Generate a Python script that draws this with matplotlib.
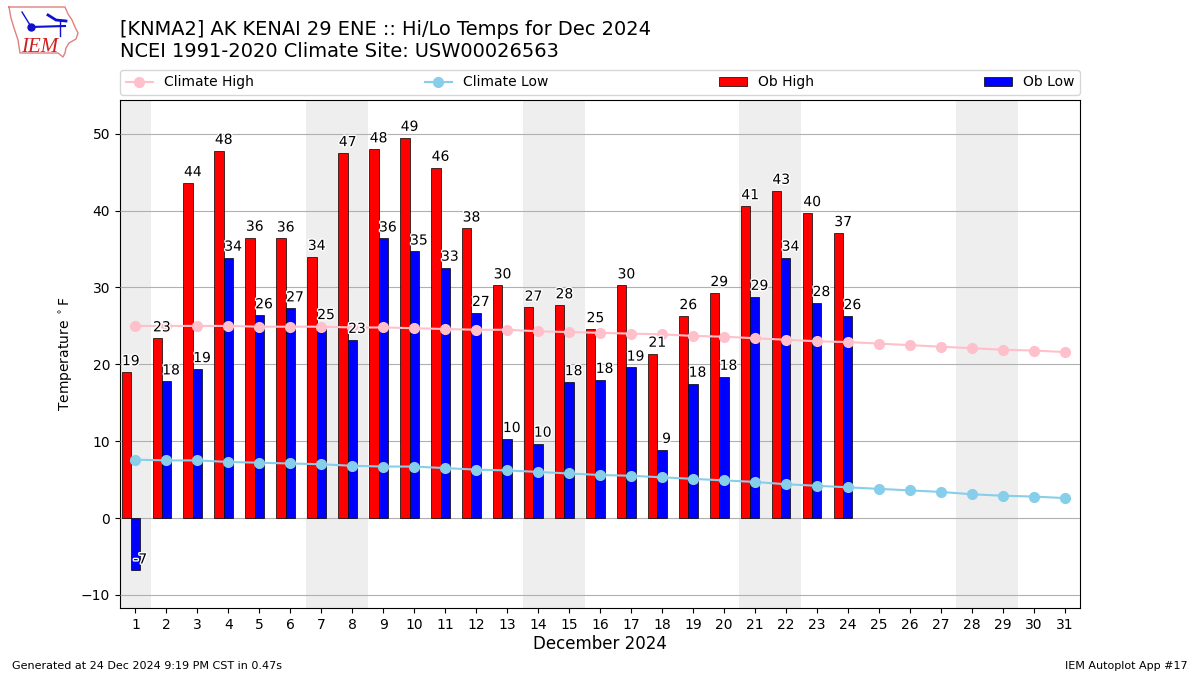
import matplotlib
matplotlib.use("Agg")
import matplotlib.pyplot as plt
import matplotlib.patheffects as pe
import numpy as np

days = list(range(1, 32))
ob_high = [19.0, 23.4, 43.6, 47.8, 36.5, 36.4, 34.0, 47.5, 48.0, 49.5, 45.6, 37.7, 30.3, 27.4, 27.7, 24.6, 30.3, 21.4, 26.3, 29.3, 40.6, 42.6, 39.7, 37.1]
ob_low = [-6.7, 17.8, 19.4, 33.9, 26.4, 27.3, 25.0, 23.2, 36.4, 34.7, 32.6, 26.7, 10.3, 9.7, 17.7, 18.0, 19.6, 8.9, 17.5, 18.4, 28.8, 33.9, 28.0, 26.3]
high_labels = [19, 23, 44, 48, 36, 36, 34, 47, 48, 49, 46, 38, 30, 27, 28, 25, 30, 21, 26, 29, 41, 43, 40, 37]
low_labels = [-7, 18, 19, 34, 26, 27, 25, 23, 36, 35, 33, 27, 10, 10, 18, 18, 19, 9, 18, 18, 29, 34, 28, 26]
climate_high = [25.0, 25.0, 25.0, 25.0, 24.9, 24.9, 24.9, 24.8, 24.8, 24.7, 24.6, 24.5, 24.5, 24.3, 24.2, 24.1, 24.0, 23.9, 23.7, 23.6, 23.4, 23.2, 23.0, 22.9, 22.7, 22.5, 22.3, 22.1, 21.9, 21.8, 21.6]
climate_low = [7.6, 7.5, 7.5, 7.3, 7.2, 7.1, 7.0, 6.8, 6.7, 6.7, 6.5, 6.3, 6.2, 6.0, 5.8, 5.6, 5.5, 5.3, 5.1, 4.9, 4.7, 4.4, 4.2, 4.0, 3.8, 3.6, 3.4, 3.1, 2.9, 2.8, 2.6]
weekend_spans = [(0.5, 1.5), (6.5, 8.5), (13.5, 15.5), (20.5, 22.5), (27.5, 29.5)]

fig = plt.figure(figsize=(12, 6.75), dpi=100)

# logo, drawn in pixel coordinates of the figure
logo = fig.add_axes([0, 0, 1, 1], zorder=0)
logo.set_xlim(0, 1200)
logo.set_ylim(675, 0)
logo.axis("off")
outline_x = [9, 65, 68, 72, 75, 78, 76, 69, 66, 65, 63, 58, 20, 18, 14, 11, 9]
outline_y = [7, 7, 14, 20, 27, 33, 39, 43, 48, 53, 57, 53, 53, 40, 28, 18, 7]
logo.plot(outline_x, outline_y, color="#e08080", lw=1)
logo.plot([31, 65], [27, 26], color="#1010d0", lw=1.5)
logo.plot([31], [27], "o", color="#1010d0", ms=5)
logo.plot([48, 56, 66], [15, 20, 21], color="#1010d0", lw=2)
logo.plot([60, 60], [21, 36], color="#1010d0", lw=1)
logo.plot([22, 30], [12, 25], color="#1010d0", lw=1)
logo.text(21, 52, "IEM", color="#d02020", fontsize=15, family="Liberation Serif", style="italic", va="baseline")

ax = fig.add_axes([0.1, 0.0993, 0.8, 0.7526], zorder=1)

for lo, hi in weekend_spans:
    ax.axvspan(lo, hi, color="#eeeeee", zorder=1, lw=0)
ax.grid(axis="y", color="#b0b0b0", lw=0.8, zorder=2)
ax.set_axisbelow(False)

x = np.arange(1, 25)
w = 0.3
b1 = ax.bar(x - w, ob_high, w, color="red", edgecolor="k", lw=0.5, label="Ob High", zorder=3)
b2 = ax.bar(x, ob_low, w, color="blue", edgecolor="k", lw=0.5, label="Ob Low", zorder=3)
l1, = ax.plot(days, climate_high, "-o", color="pink", label="Climate High", zorder=4, ms=7)
l2, = ax.plot(days, climate_low, "-o", color="skyblue", label="Climate Low", zorder=4, ms=7)

stroke = [pe.withStroke(linewidth=2, foreground="white")]
for xi, v, t in zip(x, ob_high, high_labels):
    ax.text(xi - 0.15, v + 0.5, str(t), ha="center", va="bottom", fontsize=10, zorder=5, path_effects=stroke)
for xi, v, t in zip(x, ob_low, low_labels):
    yy = v + 0.5 if v > 0 else v + 0.4
    ax.text(xi + 0.15, yy, str(t), ha="center", va="bottom", fontsize=10, zorder=5, path_effects=stroke)

ax.set_xlim(0.5, 31.5)
ax.set_ylim(-11.7, 54.4)
ax.set_xticks(days)
ax.set_yticks(range(-10, 60, 10))
ax.set_xlabel("December 2024", fontsize=12, labelpad=2.5)
ax.set_ylabel(r"Temperature $^\circ$F", fontsize=10)

fig.text(0.1, 0.9095, "[KNMA2] AK KENAI 29 ENE :: Hi/Lo Temps for Dec 2024\nNCEI 1991-2020 Climate Site: USW00026563", fontsize=13.98, va="bottom", ha="left")
fig.text(0.01, 0.006, "Generated at 24 Dec 2024 9:19 PM CST in 0.47s", fontsize=8, va="bottom")
fig.text(0.99, 0.006, "IEM Autoplot App #17", fontsize=8, ha="right", va="bottom")
ax.legend(handles=[l1, l2, b1, b2], loc="lower left", bbox_to_anchor=(0, 1.0098, 1, 0.04), ncol=4, mode="expand", borderaxespad=0, fontsize=10)

fig.savefig("out.png", dpi=100)
